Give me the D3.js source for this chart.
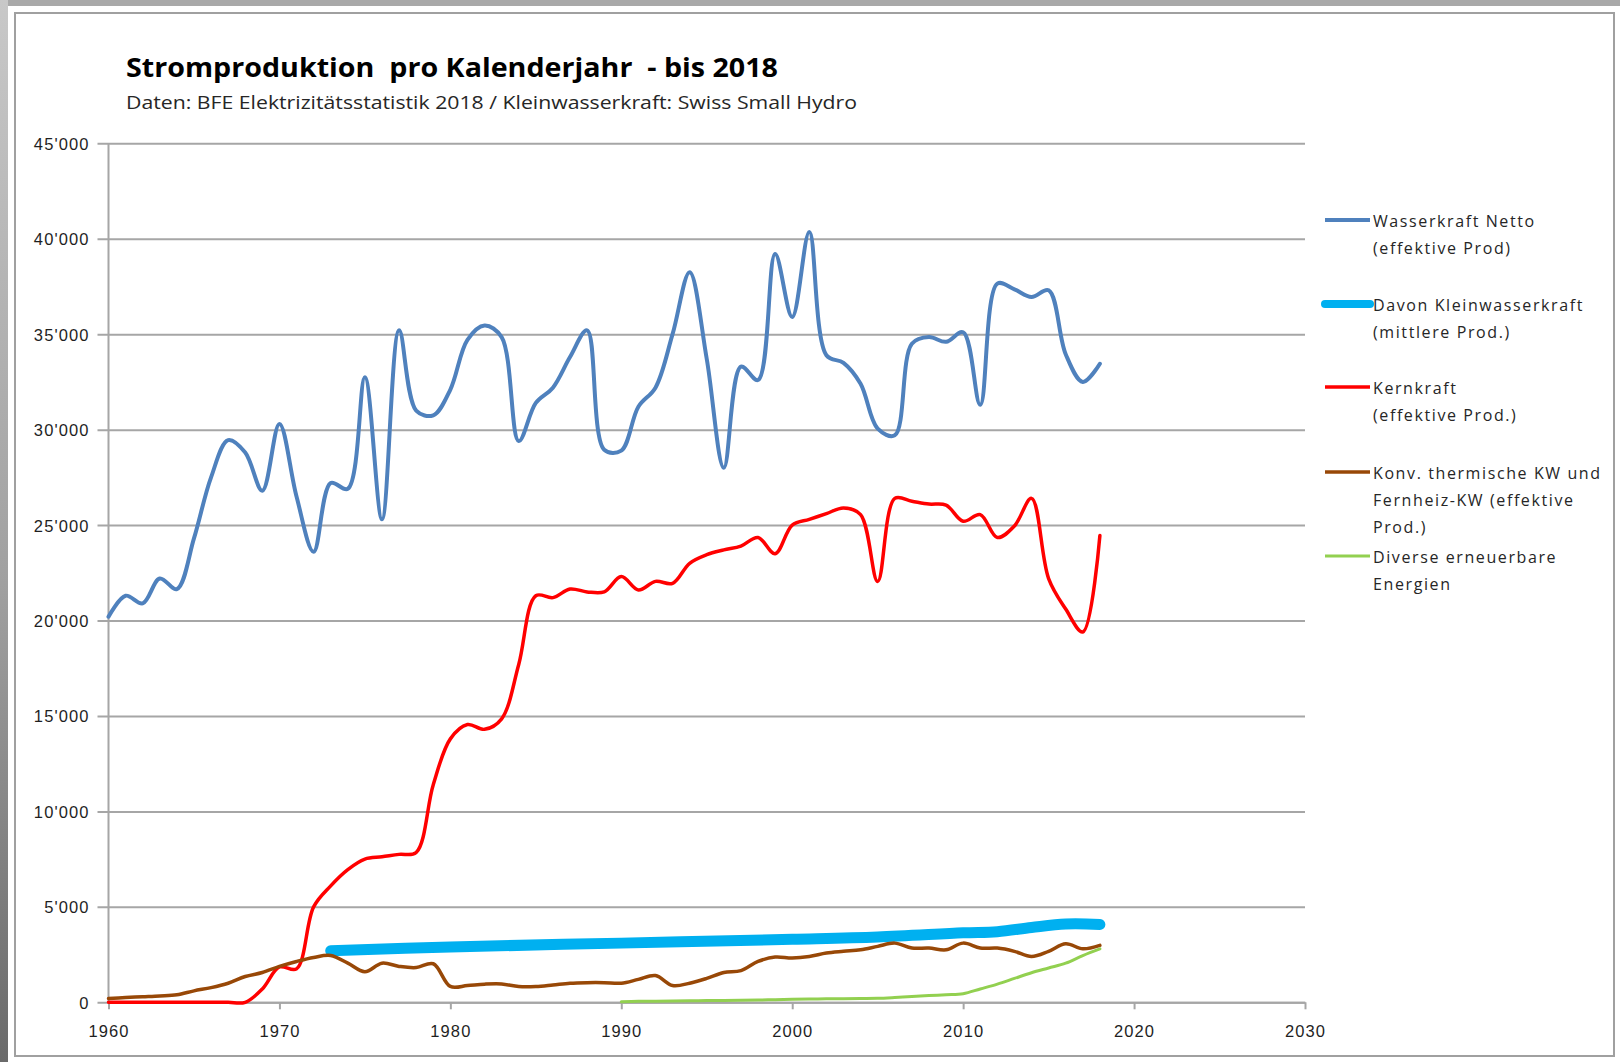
<!DOCTYPE html>
<html lang="de">
<head>
    <meta charset="UTF-8">
    <title>Stromproduktion pro Kalenderjahr - bis 2018</title>
    <script src="https://d3js.org/d3.v7.min.js"></script>
    <style>
        html, body {
            margin: 0;
            padding: 0;
            background: #ffffff;
        }
        svg {
            display: block;
            font-family: "Open Sans", "Noto Sans", sans-serif;
        }
        .grid line {
            stroke: #a6a6a6;
            stroke-width: 2;
        }
        .tick-label {
            font-size: 16.5px;
            fill: #1f1f1f;
            letter-spacing: 1.1px;
        }
        .legend text {
            font-size: 16px;
            fill: #262626;
            letter-spacing: 1.6px;
        }
        .title {
            white-space: pre;
        }
    </style>
</head>
<body>
    <div id="chart"></div>

    <script>
        // Jahre (x-Kategorien)
        const years = d3.range(1960, 2019);

        // Wasserkraft Netto (effektive Prod), GWh
        const wasserkraft = [
            20200, 21300, 20900, 22200, 21650, 24300, 27500, 29450, 28800, 26800,
            30300, 26500, 23600, 27200, 26900, 32750, 25300, 35200, 31000, 30750,
            32100, 34700, 35450, 34850, 29400, 31400, 32200, 33800, 35200, 28950,
            28900, 31200, 32200, 35000, 38250, 33700, 28000, 33300, 32600, 39200,
            35900, 40350, 33900, 33500, 32400, 30050, 29700, 34500, 34850, 34600,
            35100, 31300, 37650, 37350, 36950, 37300, 33950, 32500, 33450
        ];

        // Kernkraft (effektive Prod.)
        const kernkraft = [
            0, 0, 0, 0, 0, 0, 0, 0, 0, 700,
            1850, 1750, 5000, 6100, 6950, 7500, 7620, 7750, 7850, 11400,
            13800, 14550, 14300, 14850, 17700, 21300, 21200, 21650, 21500, 21500,
            22300, 21600, 22050, 21950, 23000, 23450, 23700, 23900, 24350, 23500,
            25000, 25300, 25600, 25900, 25550, 22050, 26400, 26250, 26100, 26050,
            25200, 25550, 24350, 24950, 26400, 22200, 20600, 19400, 24450
        ];

        // Konv. thermische KW und Fernheiz-KW
        const thermisch = [
            200, 250, 290, 330, 390, 600, 770, 1000, 1350, 1560,
            1880, 2140, 2350, 2450, 2050, 1600, 2050, 1880, 1820, 2020,
            830, 880, 950, 960, 830, 830, 910, 1000, 1030, 1030,
            1000, 1200, 1400, 880, 1000, 1250, 1560, 1660, 2140, 2370,
            2320, 2400, 2580, 2670, 2750, 2930, 3100, 2840, 2840, 2750,
            3100, 2840, 2840, 2670, 2400, 2670, 3070, 2800, 2980
        ];

        // Davon Kleinwasserkraft (mittlere Prod.)
        const kleinYears = [1973, 1980, 1990, 2000, 2005, 2010, 2012, 2014, 2016, 2018];
        const kleinwasser = [2700, 2900, 3100, 3300, 3420, 3640, 3700, 3920, 4100, 4080];

        // Diverse erneuerbare Energien
        const diverseYears = d3.range(1990, 2019);
        const diverse = [
            30, 50, 60, 70, 80, 90, 100, 110, 120, 140,
            160, 170, 180, 190, 200, 210, 250, 300, 350, 400,
            450, 700, 950, 1250, 1550, 1800, 2050, 2450, 2800
        ];

        const yTicks = [0, 5000, 10000, 15000, 20000, 25000, 30000, 35000, 40000, 45000];
        const xTicks = [1960, 1970, 1980, 1990, 2000, 2010, 2020, 2030];

        const series = [
            { name: ["Wasserkraft Netto", "(effektive Prod)"], x: years, y: wasserkraft, color: "#4f81bd", width: 4 },
            { name: ["Davon Kleinwasserkraft", "(mittlere Prod.)"], x: kleinYears, y: kleinwasser, color: "#00b0f0", width: 11 },
            { name: ["Kernkraft", "(effektive Prod.)"], x: years, y: kernkraft, color: "#ff0000", width: 3.5 },
            { name: ["Konv. thermische KW und", "Fernheiz-KW (effektive", "Prod.)"], x: years, y: thermisch, color: "#984807", width: 3.5 },
            { name: ["Diverse erneuerbare", "Energien"], x: diverseYears, y: diverse, color: "#92d050", width: 3 }
        ];

        const W = 1620, H = 1062;
        const svg = d3.select("#chart")
            .append("svg")
            .attr("width", W)
            .attr("height", H);

        // Rahmen / Hintergrund wie im Screenshot
        const defs = svg.append("defs");
        const grad = defs.append("linearGradient")
            .attr("id", "leftStrip")
            .attr("x1", 0).attr("y1", 0).attr("x2", 0).attr("y2", 1);
        grad.append("stop").attr("offset", "0%").attr("stop-color", "#c8c8c8");
        grad.append("stop").attr("offset", "55%").attr("stop-color", "#a0a0a0");
        grad.append("stop").attr("offset", "100%").attr("stop-color", "#6a6a6a");

        svg.append("rect").attr("width", W).attr("height", H).attr("fill", "#ffffff");
        svg.append("rect").attr("width", W).attr("height", 6).attr("fill", "#a9a9a9");
        svg.append("rect").attr("y", 0).attr("width", 8).attr("height", H).attr("fill", "url(#leftStrip)");
        svg.append("rect")
            .attr("x", 15).attr("y", 13)
            .attr("width", 1599).attr("height", 1043)
            .attr("fill", "none")
            .attr("stroke", "#a0a0a0")
            .attr("stroke-width", 2);

        // Titel
        svg.append("text")
            .attr("class", "title")
            .attr("x", 126).attr("y", 77)
            .attr("font-size", 27)
            .attr("font-weight", "bold")
            .attr("fill", "#000")
            .attr("textLength", 652)
            .attr("lengthAdjust", "spacingAndGlyphs")
            .text("Stromproduktion  pro Kalenderjahr  - bis 2018");

        svg.append("text")
            .attr("x", 126).attr("y", 109)
            .attr("font-size", 19)
            .attr("fill", "#262626")
            .attr("textLength", 731)
            .attr("lengthAdjust", "spacingAndGlyphs")
            .text("Daten: BFE Elektrizitätsstatistik 2018 / Kleinwasserkraft: Swiss Small Hydro");

        // Skalen
        const x = d3.scaleLinear().domain([1960, 2030]).range([108.5, 1305]);
        const y = d3.scaleLinear().domain([0, 45000]).range([1002.3, 143.3]);

        const fmt = d3.formatLocale({ decimal: ".", thousands: "'", grouping: [3], currency: ["", ""] }).format(",");

        // Gitterlinien + y-Achse
        const yAxis = svg.append("g")
            .attr("class", "grid")
            .attr("transform", `translate(${x(1960)},0)`)
            .call(d3.axisLeft(y).tickValues(yTicks).tickSize(-(x(2030) - x(1960))).tickSizeOuter(0).tickFormat(fmt));
        yAxis.select(".domain").remove();
        yAxis.selectAll(".tick line").attr("x1", -11);
        yAxis.selectAll(".tick text")
            .attr("class", "tick-label")
            .attr("x", -19)
            .attr("dy", "0.36em")
            .attr("font-family", null)
            .attr("font-size", null);

        svg.append("line")
            .attr("x1", x(1960)).attr("x2", x(1960))
            .attr("y1", y(45000)).attr("y2", y(0))
            .attr("stroke", "#a6a6a6").attr("stroke-width", 2);

        // x-Achse
        const xAxis = svg.append("g")
            .attr("class", "grid")
            .attr("transform", `translate(0,${y(0)})`)
            .call(d3.axisBottom(x).tickValues(xTicks).tickFormat(d3.format("d")).tickSize(7).tickSizeOuter(0));
        xAxis.select(".domain").attr("stroke", "#a6a6a6").attr("stroke-width", 2);
        xAxis.selectAll(".tick text")
            .attr("class", "tick-label")
            .attr("y", 23)
            .attr("dy", "0.71em")
            .attr("font-family", null)
            .attr("font-size", null);

        // Linien
        const line = d3.line()
            .x(d => x(d[0]))
            .y(d => y(d[1]))
            .curve(d3.curveCatmullRom.alpha(0.5));

        svg.append("g")
            .selectAll("path")
            .data(series)
            .join("path")
            .attr("d", s => line(s.x.map((yr, i) => [yr, s.y[i]])))
            .attr("fill", "none")
            .attr("stroke", s => s.color)
            .attr("stroke-width", s => s.width)
            .attr("stroke-linecap", "round")
            .attr("stroke-linejoin", "round");

        // Legende
        const legendY = [220, 304, 387, 472, 556];
        const legend = svg.append("g")
            .attr("class", "legend")
            .selectAll("g")
            .data(series)
            .join("g")
            .attr("transform", (s, i) => `translate(1325,${legendY[i]})`);

        legend.append("line")
            .attr("x1", 0).attr("x2", 45)
            .attr("stroke", s => s.color)
            .attr("stroke-width", s => Math.min(s.width, 8))
            .attr("stroke-linecap", s => s.width > 5 ? "round" : "butt");

        legend.append("text")
            .attr("x", 48)
            .selectAll("tspan")
            .data(s => s.name)
            .join("tspan")
            .attr("x", 48)
            .attr("y", (d, i) => 7 + i * 26.8)
            .text(d => d);
    </script>
</body>
</html>
